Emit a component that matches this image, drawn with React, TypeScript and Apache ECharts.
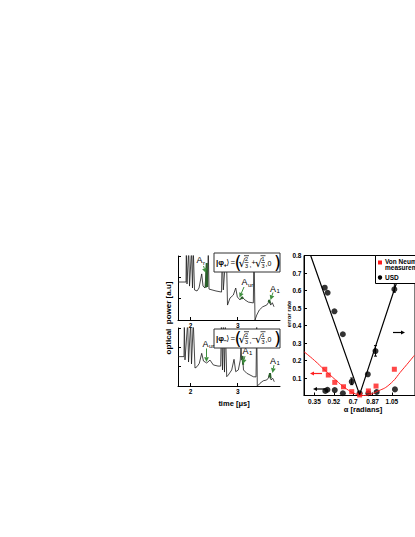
import React, { useEffect, useRef } from "react";
import * as echarts from "echarts";

// ---------------- data ----------------
// time axis ticks [µs]
const timeTicks = [2, 3];
// top oscilloscope trace |phi+>  : [time µs, optical power a.u.]
const topTrace = [
  [1.735, 1.78], [1.905, 1.78], [1.911, 3.3], [1.926, 1.69], [1.962, 3.3], [1.979, 1.59],
  [2.021, 3.3], [2.042, 1.5], [2.059, 3.3], [2.085, 1.41], [2.138, 1.36], [2.18, 1.5],
  [2.237, 2.16], [2.265, 1.59], [2.307, 1.5], [2.343, 2.67], [2.36, 1.55], [2.377, 3.3],
  [2.392, 1.45], [2.456, 1.41], [2.54, 1.36], [2.657, 1.31], [2.674, 3.3], [2.695, 1.41],
  [2.758, 3.3], [2.784, 0.7], [2.837, 1.03], [2.907, 1.17], [2.958, 1.5], [2.992, 1.08],
  [3.049, 0.94], [3.091, 1.08], [3.155, 0.94], [3.225, 0.84], [3.331, 0.8], [3.345, 3.3],
  [3.367, 0], [3.403, 0.23], [3.458, 0.47], [3.53, 0.62], [3.614, 0.7], [3.648, 0.81],
  [3.669, 0.94], [3.699, 0.7], [3.733, 0.81], [3.769, 0.62],
];
const topGreenAr = [[2.328, 1.52], [2.343, 2.67], [2.355, 1.56]];
const topGreenAur = [[3.075, 0.98], [3.091, 1.08], [3.11, 1.0]];
const topGreenA1 = [[3.655, 0.84], [3.669, 0.94], [3.685, 0.78]];

// bottom oscilloscope trace |phi->
const bottomTrace = [
  [1.735, 1.52], [1.862, 1.52], [1.869, 3.3], [1.883, 1.35], [1.941, 3.3], [1.958, 1.24],
  [2.004, 3.3], [2.021, 1.14], [2.059, 3.3], [2.095, 0.93], [2.138, 1.0], [2.186, 1.17],
  [2.237, 1.69], [2.275, 1.29], [2.343, 1.19], [2.413, 1.34], [2.483, 1.09], [2.583, 1.03],
  [2.64, 1.03], [2.653, 3.3], [2.678, 0.83], [2.695, 3.3], [2.72, 0.72], [2.737, 3.3],
  [2.767, 0.48], [2.801, 0.57], [2.873, 0.83], [2.922, 1.38], [2.958, 0.74], [3.013, 0.83],
  [3.055, 1.34], [3.07, 2.03], [3.085, 1.34], [3.102, 1.55], [3.123, 0.83], [3.191, 0.66],
  [3.261, 0.57], [3.331, 0.48], [3.388, 0.47], [3.403, 3.3], [3.415, 0], [3.441, 0.05],
  [3.472, 0.14], [3.542, 0.27], [3.614, 0.31], [3.648, 0.41], [3.684, 0.66], [3.706, 0.31],
  [3.742, 0.4], [3.775, 0.22],
];
const bottomGreenA1 = [[3.09, 1.4], [3.102, 1.55], [3.115, 1.1]];
const bottomGreenA1b = [[3.668, 0.45], [3.684, 0.66], [3.698, 0.4]];

// right panel: error rate vs alpha [radians]
const alphaTicks = [0.349, 0.524, 0.698, 0.873, 1.047];
const alphaTickLabels = ["0.35", "0.52", "0.7", "0.87", "1.05"];
const vnAlpha = [0.442, 0.474, 0.532, 0.611, 0.685, 0.756, 0.835, 0.904, 1.069];
const vnError = [0.15, 0.117, 0.075, 0.05, 0.022, 0.003, 0.026, 0.054, 0.15];
const usdAlpha = [0.442, 0.468, 0.529, 0.605, 0.685, 0.756, 0.83, 0.899, 1.069,
  0.447, 0.466, 0.532, 0.605, 0.835, 0.91, 1.074];
const usdError = [0.616, 0.587, 0.481, 0.35, 0.079, 0.013, 0.121, 0.254, 0.607,
  0.026, 0.033, 0.031, 0.013, 0.013, 0.02, 0.035];
const usdBarAlpha = [0.899, 0.685, 1.069];
const usdBarLow = [0.225, 0.062, 0.59];
const usdBarHigh = [0.285, 0.1, 0.645];
const vnCurveAlpha = [0.255, 0.35, 0.44, 0.54, 0.63, 0.72, 0.78, 0.85, 0.91, 1.02, 1.14, 1.25];
const vnCurveError = [0.25, 0.2, 0.146, 0.089, 0.041, 0.009, 0.0, 0.006, 0.022, 0.06, 0.146, 0.23];
const usdLineAlpha = [0.315, 0.756, 1.17];
const usdLineError = [0.8, 0.005, 0.8];

// ---------------- helpers ----------------
const FONT = "Liberation Sans, Arial, sans-serif";
const GREEN = "#3f8f3f";

function txt(text: string, x: number, y: number, size: number, extra: any = {}) {
  return {
    type: "text", x, y, z: 100,
    style: {
      text, fontSize: size, fontFamily: FONT, fill: "#000",
      align: "left", verticalAlign: "middle", ...(extra.style || {}),
    },
    ...(extra.el || {}),
  };
}

function arrow(x1: number, y1: number, x2: number, y2: number, color: string, head = 3, w = 1) {
  const dx = x2 - x1, dy = y2 - y1;
  const len = Math.sqrt(dx * dx + dy * dy);
  const ux = dx / len, uy = dy / len;
  const bx = x2 - ux * head * 1.6, by = y2 - uy * head * 1.6;
  const px = -uy * head * 0.8, py = ux * head * 0.8;
  return [
    { type: "line", z: 100, shape: { x1, y1, x2: bx, y2: by }, style: { stroke: color, lineWidth: w } },
    { type: "polygon", z: 100, shape: { points: [[x2, y2], [bx + px, by + py], [bx - px, by - py]] }, style: { fill: color } },
  ];
}

function aLabel(sub: string, x: number, y: number) {
  return [
    txt("A", x, y, 9),
    txt(sub, x + 6.5, y + 2.5, 6),
  ];
}

function sqrtFrac(x: number, cy: number, num: string) {
  const small = { style: { align: "center" } };
  return [
    txt("\u221A", x, cy + 0.5, 11, { style: { fontFamily: "DejaVu Sans" } }),
    { type: "line", z: 100, shape: { x1: x + 5.5, y1: cy - 6.8, x2: x + 10.5, y2: cy - 6.8 }, style: { stroke: "#000", lineWidth: 0.7 } },
    txt(num, x + 8, cy - 3.3, 5.5, small),
    { type: "line", z: 100, shape: { x1: x + 6, y1: cy, x2: x + 10, y2: cy }, style: { stroke: "#000", lineWidth: 0.6 } },
    txt("3", x + 8, cy + 3.8, 5.5, small),
  ];
}

function formulaBox(y0: number, sign: string) {
  const cy = y0 + 9.5;
  return [
    { type: "rect", z: 99, shape: { x: 214, y: y0, width: 66, height: 19 }, style: { fill: "#fff", stroke: "#333", lineWidth: 1 } },
    txt("|\u03C6", 216, cy, 8, { style: { fontWeight: "bold" } }),
    txt(sign, 223.5, cy + 2.2, 6, { style: { fontWeight: "bold" } }),
    txt("\u27E9", 226.3, cy, 8, { style: { fontFamily: "DejaVu Sans" } }),
    txt("=", 230.5, cy, 8),
    txt("(", 234.5, cy, 18, { style: { fontFamily: "DejaVu Sans" } }),
    ...sqrtFrac(238.5, cy, "2"),
    txt(",", 249.5, cy + 1.5, 7),
    txt(sign === "+" ? "+" : "\u2212", 251.5, cy, 7),
    ...sqrtFrac(255, cy, "1"),
    txt(",0", 265.5, cy + 0.5, 7),
    txt(")", 274, cy, 18, { style: { fontFamily: "DejaVu Sans" } }),
  ];
}

function zip(a: number[], b: number[]) {
  return a.map((v, i) => [v, b[i]]);
}

export default function App() {
  const ref = useRef<HTMLDivElement>(null);
  useEffect(() => {
    if (!ref.current) return;
    const chart = echarts.init(ref.current, null, { renderer: "svg" });
    const tickLabel = { fontSize: 6.5, fontWeight: "bold", color: "#000", fontFamily: FONT, margin: 3 };
    const blackLine = { show: true, lineStyle: { color: "#000", width: 1 } };
    const timeX = (gi: number) => ({
      gridIndex: gi, type: "value", min: 1.735, max: 3.896,
      axisLine: { ...blackLine, onZero: false },
      axisTick: { inside: true, length: 3, customValues: timeTicks, lineStyle: { color: "#000" } },
      axisLabel: { ...tickLabel, margin: 1.5, customValues: timeTicks },
      splitLine: { show: false },
    });
    const powerY = (gi: number) => ({
      gridIndex: gi, type: "value", min: 0, max: 3, interval: 1,
      axisLine: { ...blackLine, onZero: false },
      axisTick: { show: true, inside: true, length: 3, lineStyle: { color: "#000" } },
      axisLabel: { show: false },
      splitLine: { show: false },
    });
    const traceLine = (data: number[][], gi: number) => ({
      type: "line", xAxisIndex: gi, yAxisIndex: gi, data, showSymbol: false, symbol: "none",
      lineStyle: { color: "#1a1a1a", width: 0.8 }, clip: true, z: 2,
    });
    const greenLine = (data: number[][], gi: number) => ({
      type: "line", xAxisIndex: gi, yAxisIndex: gi, data, showSymbol: false, symbol: "none",
      lineStyle: { color: "#2a5f2a", width: 2 }, clip: true, z: 3,
    });

    const option: any = {
      animation: false,
      backgroundColor: "#fff",
      grid: [
        { left: 178, top: 256, width: 102, height: 64 },
        { left: 178, top: 328, width: 102, height: 58 },
        { left: 304, top: 255.5, width: 126, height: 140, show: true, borderColor: "#000", borderWidth: 1 },
      ],
      xAxis: [
        timeX(0), timeX(1),
        {
          gridIndex: 2, type: "value", min: 0.255, max: 1.255,
          axisLine: blackLine,
          axisTick: { inside: true, length: 3, customValues: alphaTicks, lineStyle: { color: "#000" } },
          axisLabel: {
            ...tickLabel, margin: 2.5, customValues: alphaTicks,
            formatter: (v: number) => {
              let best = 0;
              alphaTicks.forEach((t, i) => { if (Math.abs(t - v) < Math.abs(alphaTicks[best] - v)) best = i; });
              return alphaTickLabels[best];
            },
          },
          splitLine: { show: false },
        },
      ],
      yAxis: [
        powerY(0), powerY(1),
        {
          gridIndex: 2, type: "value", min: 0, max: 0.8, interval: 0.1,
          axisLine: blackLine,
          axisTick: { show: true, inside: true, length: 3, lineStyle: { color: "#000" } },
          axisLabel: { ...tickLabel, margin: 2.5, formatter: (v: number) => (v < 0.05 ? "" : v.toFixed(1)) },
          splitLine: { show: false },
        },
      ],
      series: [
        traceLine(topTrace, 0),
        greenLine(topGreenAr, 0), greenLine(topGreenAur, 0), greenLine(topGreenA1, 0),
        traceLine(bottomTrace, 1),
        greenLine(bottomGreenA1, 1), greenLine(bottomGreenA1b, 1),
        {
          type: "line", xAxisIndex: 2, yAxisIndex: 2, data: zip(vnCurveAlpha, vnCurveError),
          smooth: true, showSymbol: false, symbol: "none", lineStyle: { color: "#ff2020", width: 1 }, clip: true,
        },
        {
          type: "line", xAxisIndex: 2, yAxisIndex: 2, data: zip(usdLineAlpha, usdLineError),
          showSymbol: false, symbol: "none", lineStyle: { color: "#000", width: 1.2 }, clip: true,
        },
        {
          type: "custom", xAxisIndex: 2, yAxisIndex: 2,
          data: usdBarAlpha.map((a, i) => [a, usdBarLow[i], usdBarHigh[i]]),
          encode: { x: 0, y: [1, 2] },
          renderItem: (params: any, api: any) => {
            const a = api.value(0);
            const p1 = api.coord([a, api.value(1)]);
            const p2 = api.coord([a, api.value(2)]);
            return {
              type: "group",
              children: [
                { type: "line", shape: { x1: p1[0], y1: p1[1], x2: p2[0], y2: p2[1] }, style: { stroke: "#000", lineWidth: 1 } },
                { type: "line", shape: { x1: p1[0] - 1.5, y1: p1[1], x2: p1[0] + 1.5, y2: p1[1] }, style: { stroke: "#000", lineWidth: 1 } },
                { type: "line", shape: { x1: p2[0] - 1.5, y1: p2[1], x2: p2[0] + 1.5, y2: p2[1] }, style: { stroke: "#000", lineWidth: 1 } },
              ],
            };
          },
        },
        {
          type: "scatter", xAxisIndex: 2, yAxisIndex: 2, data: zip(usdAlpha, usdError),
          symbol: "circle", symbolSize: 6, itemStyle: { color: "#000" },
        },
        {
          type: "scatter", xAxisIndex: 2, yAxisIndex: 2, data: zip(vnAlpha, vnError),
          symbol: "rect", symbolSize: 5, itemStyle: { color: "#ff1a1a" },
        },
      ],
      graphic: [
        ...formulaBox(253, "+"),
        ...formulaBox(329, "\u2212"),
        ...aLabel("r", 196.5, 260),
        ...arrow(203.5, 266, 206, 273, GREEN),
        ...aLabel("ur", 241.5, 282),
        ...arrow(244, 287, 239.5, 297.5, GREEN),
        ...aLabel("1", 270, 288.5),
        ...arrow(273, 292.5, 270.5, 300, GREEN),
        ...aLabel("ur", 202.5, 343.5),
        ...arrow(206.5, 348.5, 206.5, 362, GREEN),
        ...aLabel("1", 242.5, 350.5),
        ...arrow(245, 356, 243, 364, GREEN),
        ...aLabel("1", 270, 360.5),
        ...arrow(274, 365, 272.5, 373, GREEN),
        txt("optical  power [a.u]", 168, 318, 8, { style: { fontWeight: "bold", align: "center" }, el: { rotation: Math.PI / 2 } }),
        txt("time [\u03BCs]", 234, 403, 7.5, { style: { fontWeight: "bold", align: "center" } }),
        txt("error rate", 288.5, 314, 6, { style: { fontWeight: "bold", align: "center" }, el: { rotation: Math.PI / 2 } }),
        txt("\u03B1 [radians]", 363, 409.5, 7.5, { style: { fontWeight: "bold", align: "center" } }),
        // legend (cut off by the right edge as in the reference)
        { type: "rect", z: 99, shape: { x: 375.5, y: 255.5, width: 60, height: 28 }, style: { fill: "#fff", stroke: "#000", lineWidth: 1 } },
        { type: "rect", z: 100, shape: { x: 378, y: 260.5, width: 4, height: 4 }, style: { fill: "#ff1a1a" } },
        txt("Von Neumann", 385, 261, 6.5, { style: { fontWeight: "bold" } }),
        txt("measurement", 385, 267, 6.5, { style: { fontWeight: "bold" } }),
        { type: "circle", z: 100, shape: { cx: 380, cy: 277.5, r: 2.2 }, style: { fill: "#000" } },
        txt("USD", 385, 277.5, 6.5, { style: { fontWeight: "bold" } }),
        // direction arrows
        ...arrow(393, 332.5, 405, 332.5, "#000", 2.5, 1.2),
        ...arrow(322, 373.5, 310, 373.5, "#ff2020", 2.5, 1.2),
        ...arrow(325, 389, 313, 389, "#000", 2.5, 1.2),
      ],
    };
    chart.setOption(option);
    return () => chart.dispose();
  }, []);
  return (
    <div style={{ position: "fixed", left: 0, top: 0, width: 415, height: 537, overflow: "hidden", background: "#fff" }}>
      <div ref={ref} style={{ width: 415, height: 537 }} />
    </div>
  );
}
